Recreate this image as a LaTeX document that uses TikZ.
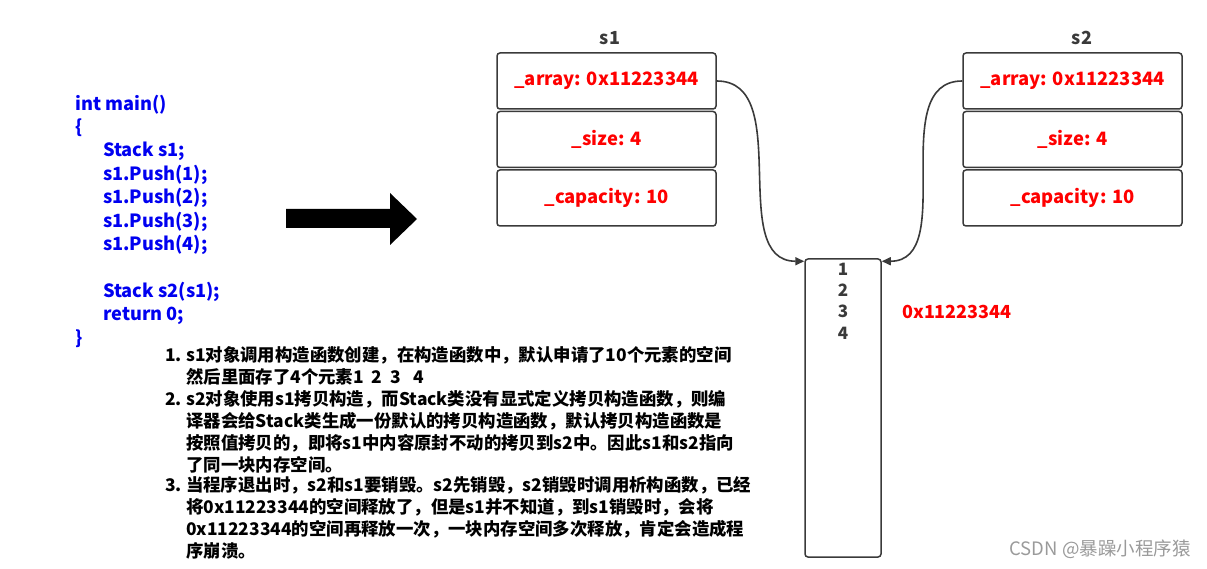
\documentclass[tikz,border=0pt]{standalone}
\usepackage{fontspec}
\setmainfont{Noto Sans CJK SC}
\usetikzlibrary{positioning,arrows.meta,calc}
\definecolor{codeblue}{HTML}{0000F0}
\definecolor{fieldred}{HTML}{FF0000}
\definecolor{boxgray}{HTML}{3A3A3A}
\definecolor{markgray}{HTML}{9A9A9A}

\begin{document}
\begin{tikzpicture}[
    x=1pt, y=-1pt,
    >={Triangle[length=9pt,width=8pt]},
    every node/.style={font=\bfseries},
    field/.style={
        draw=boxgray,
        line width=1.5pt,
        rounded corners=3pt,
        minimum width=219pt,
        minimum height=56pt,
        inner sep=0pt,
        text=fieldred,
        font=\bfseries\fontsize{18.4}{22}\selectfont
    },
    title/.style={text=boxgray, font=\bfseries\fontsize{18}{22}\selectfont},
    memory/.style={
        draw=boxgray,
        line width=1.5pt,
        rounded corners=3pt,
        minimum width=76pt,
        minimum height=298pt,
        inner sep=0pt
    },
    link/.style={->, line width=1.6pt, draw=boxgray},
    code/.style={
        text=codeblue,
        align=left,
        anchor=base west,
        inner sep=0pt,
        font=\bfseries\fontsize{18.2}{23.4}\selectfont
    },
    note/.style={
        align=left,
        anchor=base west,
        inner sep=0pt,
        font=\bfseries\fontsize{17.4}{21.8}\selectfont
    }
]
\useasboundingbox (0,0) rectangle (1207,569);

% source code (base = last line)
\node[code] (main) at (75,344) {int main()\\
{\char`\{}\\
\hspace*{28pt}Stack s1;\\
\hspace*{28pt}s1.Push(1);\\
\hspace*{28pt}s1.Push(2);\\
\hspace*{28pt}s1.Push(3);\\
\hspace*{28pt}s1.Push(4);\\[23.4pt]
\hspace*{28pt}Stack s2(s1);\\
\hspace*{28pt}return 0;\\
{\char`\}}};

\fill[black] (286,209) -- (390,209) -- (390,193) -- (417,219)
    -- (390,245) -- (390,228) -- (286,228) -- cycle;

% object s1
\node[field] (s1a) at (606.5,81) {\_array: 0x11223344};
\node[field, below=1pt of s1a] (s1s) {\_size: 4};
\node[field, below=1pt of s1s] (s1c) {\_capacity: 10};
\node[title] (s1t) at (610,38) {s1};

% object s2
\node[field] (s2a) at (1072.5,81) {\_array: 0x11223344};
\node[field, below=1pt of s2a] (s2s) {\_size: 4};
\node[field, below=1pt of s2s] (s2c) {\_capacity: 10};
\node[title] (s2t) at (1082,38) {s2};

% heap block
\node[memory] (mem) at (843,408) {};
\node[align=center, anchor=base, inner sep=0pt, text=boxgray,
    font=\bfseries\fontsize{17}{21.3}\selectfont] (vals) at (843,339) {1\\2\\3\\4};
\node[text=fieldred, font=\bfseries\fontsize{18}{22}\selectfont] (addr) at (957,312) {0x11223344};

\draw[link] (s1a.east) to[out=0, in=180] ($(mem.north west)+(0,3)$);
\draw[link] (s2a.west) to[out=180, in=0] ($(mem.north east)+(0,3)$);

% explanation (base = last line)
\node[note] (item1) at (165,383) {\makebox[21pt][l]{1.}s1对象调用构造函数创建，在构造函数中，默认申请了10个元素的空间\\
\hspace*{21pt}然后里面存了4个元素1\ \ 2\ \ 3\ \ \ 4};
\node[note] (item2) at (165,471) {\makebox[21pt][l]{2.}s2对象使用s1拷贝构造，而Stack类没有显式定义拷贝构造函数，则编\\
\hspace*{21pt}译器会给Stack类生成一份默认的拷贝构造函数，默认拷贝构造函数是\\
\hspace*{21pt}按照值拷贝的，即将s1中内容原封不动的拷贝到s2中。因此s1和s2指向\\
\hspace*{21pt}了同一块内存空间。};
\node[note] (item3) at (165,557) {\makebox[21pt][l]{3.}当程序退出时，s2和s1要销毁。s2先销毁，s2销毁时调用析构函数，已经\\
\hspace*{21pt}将0x11223344的空间释放了，但是s1并不知道，到s1销毁时，会将\\
\hspace*{21pt}0x11223344的空间再释放一次，一块内存空间多次释放，肯定会造成程\\
\hspace*{21pt}序崩溃。};

\node[text=markgray, font=\mdseries\fontsize{18.5}{22}\selectfont] (mark) at (1100,549) {CSDN @暴躁小程序猿};
\end{tikzpicture}
\end{document}
